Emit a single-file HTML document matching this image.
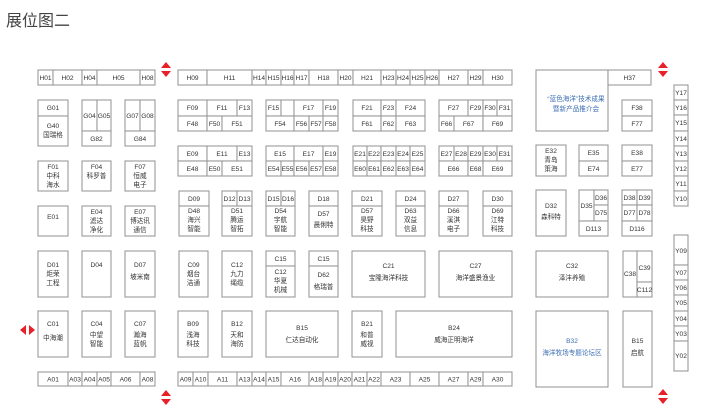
<!DOCTYPE html>
<html><head><meta charset="utf-8"><style>
html,body{margin:0;padding:0;background:#fff;width:724px;height:411px;overflow:hidden}
svg{display:block}
rect{fill:#fff;stroke:#9a9a9a;stroke-width:1.1}
text{font-family:"Liberation Sans","Noto Sans CJK SC",sans-serif;font-size:6.6px;fill:#333;text-anchor:middle}
.t{font-size:16px;text-anchor:start;fill:#444}
.bl{fill:#3a6db3}
.ar{fill:#e8202a}
</style></head><body>
<svg width="724" height="411" viewBox="0 0 724 411" xmlns="http://www.w3.org/2000/svg">
<text class="t" x="6" y="26">展位图二</text>
<!-- arrows -->
<g class="ar">
<polygon points="166,62 171,68 161,68"/><polygon points="166,77 171,71 161,71"/>
<polygon points="166,390 171,396 161,396"/><polygon points="166,405 171,399 161,399"/>
<polygon points="663,62 668,68 658,68"/><polygon points="663,77 668,71 658,71"/>
<polygon points="663,389 668,395 658,395"/><polygon points="663,404 668,398 658,398"/>
<polygon points="20,330 26,325 26,335"/><polygon points="35,330 29,325 29,335"/>
</g>
<!-- H row -->
<g>
<rect x="38" y="70" width="15" height="15"/><text x="45.5" y="80">H01</text>
<rect x="53" y="70" width="29" height="15"/><text x="67.5" y="80">H02</text>
<rect x="82" y="70" width="15" height="15"/><text x="89.5" y="80">H04</text>
<rect x="97" y="70" width="43" height="15"/><text x="118.5" y="80">H05</text>
<rect x="140" y="70" width="15" height="15"/><text x="147.5" y="80">H08</text>
<rect x="178" y="70" width="29" height="15"/><text x="192.5" y="80">H09</text>
<rect x="207" y="70" width="45" height="15"/><text x="229.5" y="80">H11</text>
<rect x="252" y="70" width="14" height="15"/><text x="259" y="80">H14</text>
<rect x="266" y="70" width="15" height="15"/><text x="273.5" y="80">H15</text>
<rect x="281" y="70" width="13" height="15"/><text x="287.5" y="80">H16</text>
<rect x="294" y="70" width="15" height="15"/><text x="301.5" y="80">H17</text>
<rect x="309" y="70" width="29" height="15"/><text x="323.5" y="80">H18</text>
<rect x="338" y="70" width="15" height="15"/><text x="345.5" y="80">H20</text>
<rect x="353" y="70" width="28" height="15"/><text x="367" y="80">H21</text>
<rect x="381" y="70" width="15" height="15"/><text x="388.5" y="80">H23</text>
<rect x="396" y="70" width="14" height="15"/><text x="403" y="80">H24</text>
<rect x="410" y="70" width="15" height="15"/><text x="417.5" y="80">H25</text>
<rect x="425" y="70" width="14" height="15"/><text x="432" y="80">H26</text>
<rect x="439" y="70" width="29" height="15"/><text x="453.5" y="80">H27</text>
<rect x="468" y="70" width="15" height="15"/><text x="475.5" y="80">H29</text>
<rect x="483" y="70" width="29" height="15"/><text x="497.5" y="80">H30</text>
</g>
<!-- G -->
<rect x="38" y="100" width="30" height="16"/><text x="53" y="110">G01</text>
<rect x="38" y="116" width="30" height="30"/><text x="53" y="128">G40</text><text x="53" y="137">国瑞格</text>
<rect x="82" y="100" width="15" height="31"/><text x="89.5" y="118">G04</text>
<rect x="97" y="100" width="14" height="31"/><text x="104" y="118">G05</text>
<rect x="82" y="131" width="29" height="15"/><text x="96.5" y="141">G82</text>
<rect x="125" y="100" width="15" height="31"/><text x="132.5" y="118">G07</text>
<rect x="140" y="100" width="15" height="31"/><text x="147.5" y="118">G08</text>
<rect x="125" y="131" width="30" height="15"/><text x="140" y="141">G84</text>
<!-- F left -->
<rect x="38" y="161" width="30" height="30"/><text x="53" y="169">F01</text><text x="53" y="178">中科</text><text x="53" y="187">海水</text>
<rect x="82" y="161" width="29" height="30"/><text x="96.5" y="169">F04</text><text x="96.5" y="178">科罗普</text>
<rect x="125" y="161" width="30" height="30"/><text x="140" y="169">F07</text><text x="140" y="178">恒威</text><text x="140" y="187">电子</text>
<!-- E left -->
<rect x="38" y="206" width="30" height="30"/><text x="53" y="219">E01</text>
<rect x="82" y="206" width="29" height="30"/><text x="96.5" y="214">E04</text><text x="96.5" y="223">滤达</text><text x="96.5" y="232">净化</text>
<rect x="125" y="206" width="30" height="30"/><text x="140" y="214">E07</text><text x="140" y="223">博达讯</text><text x="140" y="232">通信</text>
<!-- D left -->
<rect x="38" y="251" width="30" height="46"/><text x="53" y="267">D01</text><text x="53" y="276">炬荣</text><text x="53" y="285">工程</text>
<rect x="82" y="251" width="29" height="46"/><text x="96.5" y="267">D04</text>
<rect x="125" y="251" width="30" height="46"/><text x="140" y="267">D07</text><text x="140" y="279">坡米南</text>
<!-- C left -->
<rect x="38" y="311" width="30" height="46"/><text x="53" y="326">C01</text><text x="53" y="340">中海潮</text>
<rect x="82" y="311" width="29" height="46"/><text x="96.5" y="326">C04</text><text x="96.5" y="337">中望</text><text x="96.5" y="346">智能</text>
<rect x="125" y="311" width="30" height="46"/><text x="140" y="326">C07</text><text x="140" y="337">瀚海</text><text x="140" y="346">蓝帆</text>
<!-- A left -->
<rect x="38" y="372" width="30" height="14"/><text x="53" y="381.5">A01</text>
<rect x="68" y="372" width="14" height="14"/><text x="75" y="381.5">A03</text>
<rect x="82" y="372" width="15" height="14"/><text x="89.5" y="381.5">A04</text>
<rect x="97" y="372" width="14" height="14"/><text x="104" y="381.5">A05</text>
<rect x="111" y="372" width="29" height="14"/><text x="125.5" y="381.5">A06</text>
<rect x="140" y="372" width="15" height="14"/><text x="147.5" y="381.5">A08</text>
<!-- F blocks -->
<rect x="178" y="100" width="29" height="16"/><text x="192.5" y="110">F09</text>
<rect x="207" y="100" width="30" height="16"/><text x="222" y="110">F11</text>
<rect x="237" y="100" width="15" height="16"/><text x="244.5" y="110">F13</text>
<rect x="178" y="116" width="29" height="15"/><text x="192.5" y="126">F48</text>
<rect x="207" y="116" width="15" height="15"/><text x="214.5" y="126">F50</text>
<rect x="222" y="116" width="30" height="15"/><text x="237" y="126">F51</text>
<rect x="266" y="100" width="15" height="16"/><text x="273.5" y="110">F15</text>
<rect x="281" y="100" width="13" height="16"/>
<rect x="294" y="100" width="29" height="16"/><text x="308.5" y="110">F17</text>
<rect x="323" y="100" width="15" height="16"/><text x="330.5" y="110">F19</text>
<rect x="266" y="116" width="28" height="15"/><text x="280" y="126">F54</text>
<rect x="294" y="116" width="15" height="15"/><text x="301.5" y="126">F56</text>
<rect x="309" y="116" width="14" height="15"/><text x="316" y="126">F57</text>
<rect x="323" y="116" width="15" height="15"/><text x="330.5" y="126">F58</text>
<rect x="353" y="100" width="28" height="16"/><text x="367" y="110">F21</text>
<rect x="381" y="100" width="15" height="16"/><text x="388.5" y="110">F23</text>
<rect x="396" y="100" width="29" height="16"/><text x="410.5" y="110">F24</text>
<rect x="353" y="116" width="28" height="15"/><text x="367" y="126">F61</text>
<rect x="381" y="116" width="15" height="15"/><text x="388.5" y="126">F62</text>
<rect x="396" y="116" width="29" height="15"/><text x="410.5" y="126">F63</text>
<rect x="439" y="100" width="29" height="16"/><text x="453.5" y="110">F27</text>
<rect x="468" y="100" width="15" height="16"/><text x="475.5" y="110">F29</text>
<rect x="483" y="100" width="14" height="16"/><text x="490" y="110">F30</text>
<rect x="497" y="100" width="15" height="16"/><text x="504.5" y="110">F31</text>
<rect x="439" y="116" width="15" height="15"/><text x="446.5" y="126">F66</text>
<rect x="454" y="116" width="29" height="15"/><text x="468.5" y="126">F67</text>
<rect x="483" y="116" width="29" height="15"/><text x="497.5" y="126">F69</text>
<!-- E blocks -->
<rect x="178" y="146" width="29" height="15"/><text x="192.5" y="156">E09</text>
<rect x="207" y="146" width="30" height="15"/><text x="222" y="156">E11</text>
<rect x="237" y="146" width="15" height="15"/><text x="244.5" y="156">E13</text>
<rect x="178" y="161" width="29" height="15"/><text x="192.5" y="171">E48</text>
<rect x="207" y="161" width="15" height="15"/><text x="214.5" y="171">E50</text>
<rect x="222" y="161" width="30" height="15"/><text x="237" y="171">E51</text>
<rect x="266" y="146" width="28" height="15"/><text x="280" y="156">E15</text>
<rect x="294" y="146" width="29" height="15"/><text x="308.5" y="156">E17</text>
<rect x="323" y="146" width="15" height="15"/><text x="330.5" y="156">E19</text>
<rect x="266" y="161" width="15" height="15"/><text x="273.5" y="171">E54</text>
<rect x="281" y="161" width="13" height="15"/><text x="287.5" y="171">E55</text>
<rect x="294" y="161" width="15" height="15"/><text x="301.5" y="171">E56</text>
<rect x="309" y="161" width="14" height="15"/><text x="316" y="171">E57</text>
<rect x="323" y="161" width="15" height="15"/><text x="330.5" y="171">E58</text>
<rect x="353" y="146" width="14" height="15"/><text x="360" y="156">E21</text>
<rect x="367" y="146" width="14" height="15"/><text x="374" y="156">E22</text>
<rect x="381" y="146" width="15" height="15"/><text x="388.5" y="156">E23</text>
<rect x="396" y="146" width="14" height="15"/><text x="403" y="156">E24</text>
<rect x="410" y="146" width="15" height="15"/><text x="417.5" y="156">E25</text>
<rect x="353" y="161" width="14" height="15"/><text x="360" y="171">E60</text>
<rect x="367" y="161" width="14" height="15"/><text x="374" y="171">E61</text>
<rect x="381" y="161" width="15" height="15"/><text x="388.5" y="171">E62</text>
<rect x="396" y="161" width="14" height="15"/><text x="403" y="171">E63</text>
<rect x="410" y="161" width="15" height="15"/><text x="417.5" y="171">E64</text>
<rect x="439" y="146" width="15" height="15"/><text x="446.5" y="156">E27</text>
<rect x="454" y="146" width="14" height="15"/><text x="461" y="156">E28</text>
<rect x="468" y="146" width="15" height="15"/><text x="475.5" y="156">E29</text>
<rect x="483" y="146" width="14" height="15"/><text x="490" y="156">E30</text>
<rect x="497" y="146" width="15" height="15"/><text x="504.5" y="156">E31</text>
<rect x="439" y="161" width="29" height="15"/><text x="453.5" y="171">E66</text>
<rect x="468" y="161" width="15" height="15"/><text x="475.5" y="171">E68</text>
<rect x="483" y="161" width="29" height="15"/><text x="497.5" y="171">E69</text>
<!-- D middle -->
<rect x="179" y="191" width="30" height="15"/><text x="194" y="201">D09</text>
<rect x="179" y="206" width="30" height="30"/><text x="194" y="213">D48</text><text x="194" y="222">海兴</text><text x="194" y="231">智能</text>
<rect x="222" y="191" width="15" height="15"/><text x="229.5" y="201">D12</text>
<rect x="237" y="191" width="15" height="15"/><text x="244.5" y="201">D13</text>
<rect x="222" y="206" width="30" height="30"/><text x="237" y="213">D51</text><text x="237" y="222">腾运</text><text x="237" y="231">智拓</text>
<rect x="266" y="191" width="15" height="15"/><text x="273.5" y="201">D15</text>
<rect x="281" y="191" width="14" height="15"/><text x="288" y="201">D16</text>
<rect x="266" y="206" width="29" height="30"/><text x="280.5" y="213">D54</text><text x="280.5" y="222">宇航</text><text x="280.5" y="231">智能</text>
<rect x="309" y="191" width="29" height="15"/><text x="323.5" y="201">D18</text>
<rect x="309" y="206" width="29" height="30"/><text x="323.5" y="216">D57</text><text x="323.5" y="227">晨俐特</text>
<rect x="352" y="191" width="30" height="15"/><text x="367" y="201">D21</text>
<rect x="352" y="206" width="30" height="30"/><text x="367" y="213">D57</text><text x="367" y="222">昊野</text><text x="367" y="231">科技</text>
<rect x="396" y="191" width="29" height="15"/><text x="410.5" y="201">D24</text>
<rect x="396" y="206" width="29" height="30"/><text x="410.5" y="213">D63</text><text x="410.5" y="222">双益</text><text x="410.5" y="231">信息</text>
<rect x="439" y="191" width="29" height="15"/><text x="453.5" y="201">D27</text>
<rect x="439" y="206" width="29" height="30"/><text x="453.5" y="213">D66</text><text x="453.5" y="222">溪淇</text><text x="453.5" y="231">电子</text>
<rect x="483" y="191" width="29" height="15"/><text x="497.5" y="201">D30</text>
<rect x="483" y="206" width="29" height="30"/><text x="497.5" y="213">D69</text><text x="497.5" y="222">江特</text><text x="497.5" y="231">科技</text>
<!-- C middle -->
<rect x="179" y="251" width="29" height="46"/><text x="193.5" y="267">C09</text><text x="193.5" y="276">烟台</text><text x="193.5" y="285">洁通</text>
<rect x="222" y="251" width="30" height="46"/><text x="237" y="267">C12</text><text x="237" y="276">九力</text><text x="237" y="285">绳缆</text>
<rect x="266" y="251" width="29" height="15"/><text x="280.5" y="261">C15</text>
<rect x="266" y="266" width="29" height="31"/><text x="280.5" y="274">C12</text><text x="280.5" y="283">华夏</text><text x="280.5" y="292">机械</text>
<rect x="309" y="251" width="29" height="15"/><text x="323.5" y="261">C15</text>
<rect x="309" y="266" width="29" height="31"/><text x="323.5" y="277">D62</text><text x="323.5" y="289">格瑞普</text>
<rect x="352" y="251" width="73" height="46"/><text x="388.5" y="268">C21</text><text x="388.5" y="280">宝隆海洋科技</text>
<rect x="439" y="251" width="73" height="46"/><text x="475.5" y="268">C27</text><text x="475.5" y="280">海洋盛景渔业</text>
<!-- B middle -->
<rect x="178" y="311" width="30" height="46"/><text x="193" y="326">B09</text><text x="193" y="337">浅海</text><text x="193" y="346">科技</text>
<rect x="222" y="311" width="30" height="46"/><text x="237" y="326">B12</text><text x="237" y="337">天和</text><text x="237" y="346">海防</text>
<rect x="266" y="311" width="72" height="46"/><text x="302" y="330">B15</text><text x="302" y="342">仁达自动化</text>
<rect x="352" y="311" width="30" height="46"/><text x="367" y="326">B21</text><text x="367" y="337">和普</text><text x="367" y="346">威视</text>
<rect x="396" y="311" width="116" height="46"/><text x="454" y="330">B24</text><text x="454" y="342">威海正明海洋</text>
<!-- A middle -->
<rect x="178" y="372" width="15" height="14"/><text x="185.5" y="381.5">A09</text>
<rect x="193" y="372" width="15" height="14"/><text x="200.5" y="381.5">A10</text>
<rect x="208" y="372" width="29" height="14"/><text x="222.5" y="381.5">A11</text>
<rect x="237" y="372" width="15" height="14"/><text x="244.5" y="381.5">A13</text>
<rect x="252" y="372" width="14" height="14"/><text x="259" y="381.5">A14</text>
<rect x="266" y="372" width="15" height="14"/><text x="273.5" y="381.5">A15</text>
<rect x="281" y="372" width="28" height="14"/><text x="295" y="381.5">A16</text>
<rect x="309" y="372" width="14" height="14"/><text x="316" y="381.5">A18</text>
<rect x="323" y="372" width="15" height="14"/><text x="330.5" y="381.5">A19</text>
<rect x="338" y="372" width="14" height="14"/><text x="345" y="381.5">A20</text>
<rect x="352" y="372" width="15" height="14"/><text x="359.5" y="381.5">A21</text>
<rect x="367" y="372" width="14" height="14"/><text x="374" y="381.5">A22</text>
<rect x="381" y="372" width="29" height="14"/><text x="395.5" y="381.5">A23</text>
<rect x="410" y="372" width="29" height="14"/><text x="424.5" y="381.5">A25</text>
<rect x="439" y="372" width="29" height="14"/><text x="453.5" y="381.5">A27</text>
<rect x="468" y="372" width="15" height="14"/><text x="475.5" y="381.5">A29</text>
<rect x="483" y="372" width="29" height="14"/><text x="497.5" y="381.5">A30</text>
<!-- right -->
<rect x="536" y="70" width="72" height="61"/>
<rect x="608" y="70" width="43" height="15"/><text x="629.5" y="80">H37</text>
<text class="bl" x="576" y="101">“蓝色海洋”技术成果</text><text class="bl" x="576" y="111">暨新产品推介会</text>
<rect x="622" y="100" width="30" height="16"/><text x="637" y="110">F38</text>
<rect x="622" y="116" width="30" height="15"/><text x="637" y="126">F77</text>
<rect x="536" y="145" width="30" height="31"/><text x="551" y="153">E32</text><text x="551" y="162">青岛</text><text x="551" y="171">策海</text>
<rect x="579" y="145" width="29" height="16"/><text x="593.5" y="155">E35</text>
<rect x="579" y="161" width="29" height="15"/><text x="593.5" y="171">E74</text>
<rect x="622" y="145" width="30" height="16"/><text x="637" y="155">E38</text>
<rect x="622" y="161" width="30" height="15"/><text x="637" y="171">E77</text>
<rect x="536" y="190" width="30" height="46"/><text x="551" y="208">D32</text><text x="551" y="219">森科特</text>
<rect x="579" y="190" width="15" height="31"/><text x="586.5" y="208">D35</text>
<rect x="594" y="190" width="14" height="15"/><text x="601" y="200">D36</text>
<rect x="594" y="205" width="14" height="16"/><text x="601" y="215">D75</text>
<rect x="579" y="221" width="29" height="15"/><text x="593.5" y="231">D113</text>
<rect x="622" y="190" width="15" height="15"/><text x="629.5" y="200">D38</text>
<rect x="637" y="190" width="15" height="15"/><text x="644.5" y="200">D39</text>
<rect x="622" y="205" width="15" height="16"/><text x="629.5" y="215">D77</text>
<rect x="637" y="205" width="15" height="16"/><text x="644.5" y="215">D78</text>
<rect x="622" y="221" width="30" height="15"/><text x="637" y="231">D116</text>
<rect x="536" y="251" width="72" height="46"/><text x="572" y="268">C32</text><text x="572" y="280">泽沣养殖</text>
<rect x="623" y="251" width="14" height="46"/><text x="630" y="276">C38</text>
<rect x="637" y="251" width="15" height="31"/><text x="644.5" y="270">C39</text>
<rect x="637" y="282" width="15" height="15"/><text x="644.5" y="292">C112</text>
<rect x="536" y="311" width="72" height="76"/><text class="bl" x="572" y="343">B32</text><text class="bl" x="572" y="355">海洋牧场专题论坛区</text>
<rect x="623" y="311" width="29" height="76"/><text x="637.5" y="343">B15</text><text x="637.5" y="355">启航</text>
<!-- Y column -->
<rect x="674" y="85" width="14" height="15"/><text x="681" y="95">Y17</text>
<rect x="674" y="100" width="14" height="15"/><text x="681" y="110">Y16</text>
<rect x="674" y="115" width="14" height="16"/><text x="681" y="125">Y15</text>
<rect x="674" y="131" width="14" height="15"/><text x="681" y="141">Y14</text>
<rect x="674" y="146" width="14" height="15"/><text x="681" y="156">Y13</text>
<rect x="674" y="161" width="14" height="15"/><text x="681" y="171">Y12</text>
<rect x="674" y="176" width="14" height="15"/><text x="681" y="186">Y11</text>
<rect x="674" y="191" width="14" height="15"/><text x="681" y="201">Y10</text>
<rect x="674" y="235" width="14" height="30"/><text x="681" y="253">Y09</text>
<rect x="674" y="265" width="14" height="15"/><text x="681" y="275">Y07</text>
<rect x="674" y="280" width="14" height="15"/><text x="681" y="290">Y06</text>
<rect x="674" y="295" width="14" height="16"/><text x="681" y="305">Y05</text>
<rect x="674" y="311" width="14" height="15"/><text x="681" y="321">Y04</text>
<rect x="674" y="326" width="14" height="15"/><text x="681" y="336">Y03</text>
<rect x="674" y="341" width="14" height="30"/><text x="681" y="358">Y02</text>
</svg>
</body></html>
